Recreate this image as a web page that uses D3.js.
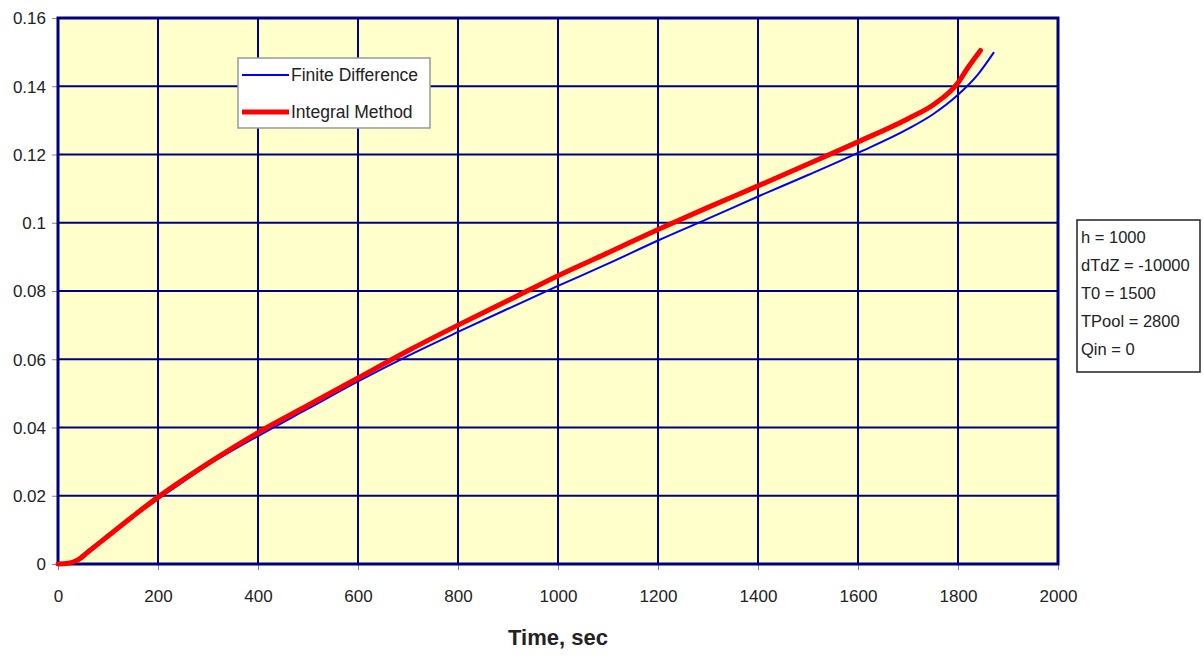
<!DOCTYPE html>
<html>
<head>
<meta charset="utf-8">
<script src="https://cdn.jsdelivr.net/npm/d3@7"></script>
<style>
  body { margin: 0; background: #fff; }
  text { font-family: "Liberation Sans", Arial, sans-serif; fill: #222; }
</style>
</head>
<body>
<div id="chart"></div>
<script>
var svgWidth = 1203;
var svgHeight = 658;
var margin = { top: 18, right: 145, bottom: 94, left: 58 };
var width = svgWidth - margin.left - margin.right;
var height = svgHeight - margin.top - margin.bottom;

// data
var fdTime = [0, 20, 40, 60, 100, 200, 300, 400, 500, 600, 700, 800, 900, 1000, 1100, 1200, 1300, 1400, 1500, 1600, 1700, 1750, 1800, 1840, 1872];
var fdValue = [0, 0.0003, 0.0016, 0.004, 0.0085, 0.019, 0.029, 0.0375, 0.0455, 0.0535, 0.061, 0.068, 0.0748, 0.0815, 0.088, 0.0948, 0.1012, 0.1077, 0.114, 0.1205, 0.1275, 0.1318, 0.1375, 0.1435, 0.150];
var imTime = [0, 20, 40, 60, 100, 150, 200, 300, 400, 500, 600, 700, 800, 900, 1000, 1100, 1200, 1300, 1400, 1500, 1600, 1700, 1750, 1800, 1820, 1845];
var imValue = [0, 0.0002, 0.0012, 0.0035, 0.0082, 0.014, 0.0196, 0.0295, 0.0385, 0.0465, 0.0545, 0.0625, 0.070, 0.0772, 0.0845, 0.0912, 0.098, 0.1045, 0.1108, 0.1172, 0.1237, 0.1305, 0.1345, 0.141, 0.1455, 0.1505];
var xTicks = [0, 200, 400, 600, 800, 1000, 1200, 1400, 1600, 1800, 2000];
var yTicks = [0, 0.02, 0.04, 0.06, 0.08, 0.1, 0.12, 0.14, 0.16];
var seriesNames = ["Finite Difference", "Integral Method"];
var notes = ["h = 1000", "dTdZ = -10000", "T0 = 1500", "TPool = 2800", "Qin = 0"];

var svg = d3.select("#chart").append("svg")
  .attr("width", svgWidth)
  .attr("height", svgHeight);
var chartGroup = svg.append("g")
  .attr("transform", `translate(${margin.left}, ${margin.top})`);

var xScale = d3.scaleLinear().domain([0, 2000]).range([0, width]);
var yScale = d3.scaleLinear().domain([0, 0.16]).range([height, 0]);

// plot background
chartGroup.append("rect")
  .attr("width", width).attr("height", height)
  .attr("fill", "#ffffcc");

// grid
chartGroup.selectAll(".vgrid").data(xTicks).enter().append("line")
  .attr("x1", d => xScale(d)).attr("x2", d => xScale(d))
  .attr("y1", 0).attr("y2", height)
  .attr("stroke", "#000080").attr("stroke-width", 2);
chartGroup.selectAll(".hgrid").data(yTicks).enter().append("line")
  .attr("x1", 0).attr("x2", width)
  .attr("y1", d => yScale(d)).attr("y2", d => yScale(d))
  .attr("stroke", "#000080").attr("stroke-width", 2);

// axes
var bottomAxis = d3.axisBottom(xScale).tickValues(xTicks).tickSize(6).tickPadding(20).tickFormat(d3.format("d"));
var leftAxis = d3.axisLeft(yScale).tickValues(yTicks).tickSize(6).tickPadding(6).tickFormat(d => d === 0 ? "0" : String(+d.toFixed(2)));
var xg = chartGroup.append("g").attr("transform", `translate(0, ${height})`).call(bottomAxis);
var yg = chartGroup.append("g").call(leftAxis);
[xg, yg].forEach(function(g) {
  g.select(".domain").remove();
  g.selectAll(".tick line").attr("stroke", "#888");
  g.selectAll(".tick text").attr("font-size", "17px").attr("fill", "#222")
    .attr("font-family", "\"Liberation Sans\", Arial, sans-serif");
});
yg.selectAll(".tick text").attr("dy", "0.35em");

// plot border
chartGroup.append("rect")
  .attr("width", width).attr("height", height)
  .attr("fill", "none").attr("stroke", "#000080").attr("stroke-width", 3);

// lines
var fdData = fdTime.map((t, i) => ({ t: t, v: fdValue[i] }));
var imData = imTime.map((t, i) => ({ t: t, v: imValue[i] }));
var line = d3.line().x(d => xScale(d.t)).y(d => yScale(d.v)).curve(d3.curveMonotoneX);

chartGroup.append("path").datum(fdData)
  .attr("d", line).attr("fill", "none").attr("stroke", "#0000ff").attr("stroke-width", 2);
chartGroup.append("path").datum(imData)
  .attr("d", line).attr("fill", "none").attr("stroke", "#ff0000").attr("stroke-width", 5)
  .attr("stroke-linecap", "round");

// legend
var legend = svg.append("g").attr("transform", "translate(238, 58)");
legend.append("rect").attr("width", 192).attr("height", 70)
  .attr("fill", "#fff").attr("stroke", "#999").attr("stroke-width", 1.5);
var legendStyles = [{ color: "#0000ff", w: 2 }, { color: "#ff0000", w: 5 }];
seriesNames.forEach(function(name, i) {
  var yy = 17 + i * 37;
  legend.append("line").attr("x1", 4).attr("x2", 51).attr("y1", yy).attr("y2", yy)
    .attr("stroke", legendStyles[i].color).attr("stroke-width", legendStyles[i].w);
  legend.append("text").attr("x", 53).attr("y", yy + 6).attr("font-size", "17.5px").text(name);
});

// parameter box
var note = svg.append("g").attr("transform", "translate(1077, 220)");
note.append("rect").attr("width", 123).attr("height", 152)
  .attr("fill", "#fff").attr("stroke", "#222").attr("stroke-width", 1.5);
notes.forEach(function(s, i) {
  note.append("text").attr("x", 4).attr("y", 23 + i * 28).attr("font-size", "16.5px").text(s);
});

// axis title
svg.append("text")
  .attr("x", margin.left + width / 2).attr("y", 645)
  .attr("text-anchor", "middle")
  .attr("font-size", "22px").attr("font-weight", "bold")
  .text("Time, sec");
</script>
</body>
</html>
